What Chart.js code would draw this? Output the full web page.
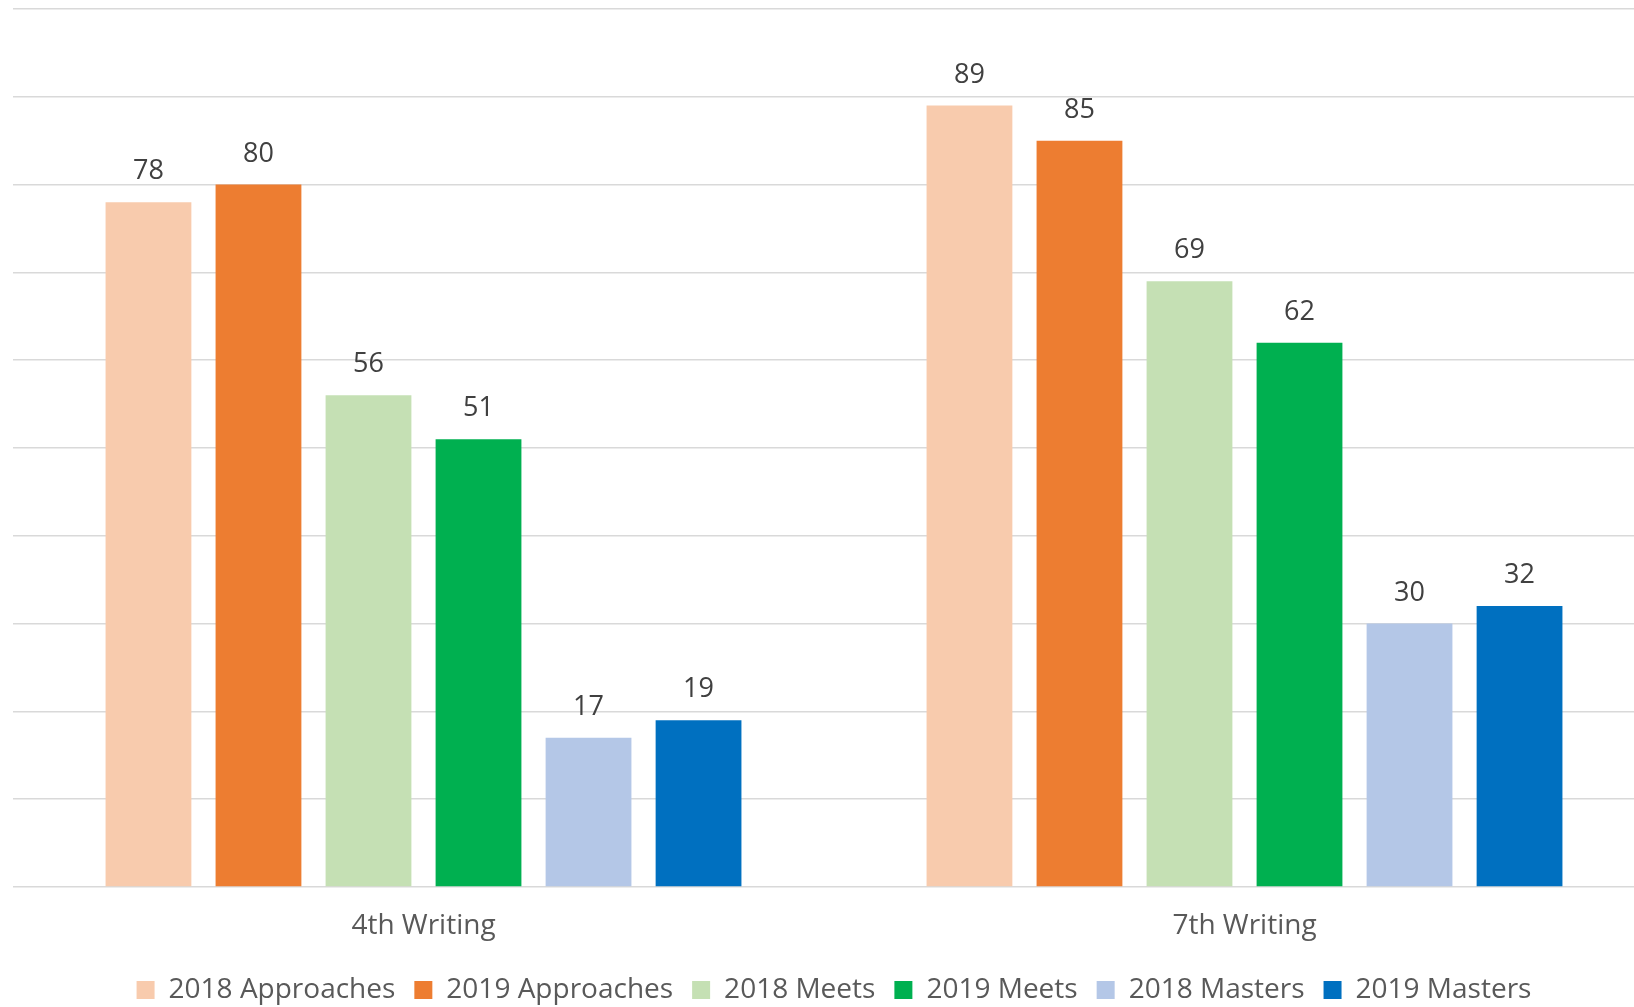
<!DOCTYPE html>
<html>
<head>
<meta charset="utf-8">
<title>Writing results 2018 vs 2019</title>
<script src="https://cdn.jsdelivr.net/npm/chart.js@4/dist/chart.umd.min.js"></script>
<style>
  html, body { margin: 0; padding: 0; background: #fff; overflow: hidden; }
  #wrap { width: 1634px; height: 1007px; overflow: hidden; }
</style>
</head>
<body>
<div id="wrap"><canvas id="chart" width="1660" height="1014"></canvas></div>
<script>
// categories and series
const categories = ["4th Writing", "7th Writing"];
const approaches2018 = [78, 89];
const approaches2019 = [80, 85];
const meets2018 = [56, 69];
const meets2019 = [51, 62];
const masters2018 = [17, 30];
const masters2019 = [19, 32];

const seriesNames = ["2018 Approaches", "2019 Approaches", "2018 Meets", "2019 Meets", "2018 Masters", "2019 Masters"];
const seriesValues = [approaches2018, approaches2019, meets2018, meets2019, masters2018, masters2019];
const seriesColors = ["#F8CBAD", "#ED7D31", "#C5E0B4", "#00B050", "#B4C7E7", "#0070C0"];

const FONT = "'Open Sans'";

// value labels above each bar
const barLabels = {
  id: "barLabels",
  afterDatasetsDraw(chart) {
    const ctx = chart.ctx;
    ctx.save();
    ctx.font = "27px " + FONT;
    ctx.fillStyle = "#404040";
    ctx.textAlign = "center";
    ctx.textBaseline = "alphabetic";
    chart.data.datasets.forEach((ds, i) => {
      chart.getDatasetMeta(i).data.forEach((bar, j) => {
        ctx.fillText(ds.data[j], bar.x, bar.y - 23);
      });
    });
    ctx.restore();
  }
};

new Chart(document.getElementById("chart"), {
  type: "bar",
  data: {
    labels: categories,
    datasets: seriesNames.map((name, i) => ({
      label: name,
      data: seriesValues[i],
      backgroundColor: seriesColors[i],
      categoryPercentage: 0.804,
      barPercentage: 0.78
    }))
  },
  options: {
    responsive: false,
    devicePixelRatio: 1,
    animation: false,
    layout: { padding: { left: 13, right: 5, top: 9, bottom: 0 } },
    plugins: {
      legend: {
        position: "bottom",
        labels: {
          font: { family: FONT, size: 28 },
          color: "#595959",
          boxWidth: 18,
          boxHeight: 18,
          padding: 19
        }
      },
      tooltip: { enabled: false }
    },
    scales: {
      x: {
        grid: { display: false, drawTicks: false },
        border: { display: false },
        ticks: { font: { family: FONT, size: 28 }, color: "#595959", padding: 22 },
        afterFit: (scale) => { scale.height = 70; }
      },
      y: {
        min: 0,
        max: 100,
        ticks: { display: false, stepSize: 10 },
        grid: { color: "#D9D9D9", lineWidth: 1.5, drawTicks: false },
        border: { display: false }
      }
    }
  },
  plugins: [barLabels]
});
</script>
</body>
</html>
